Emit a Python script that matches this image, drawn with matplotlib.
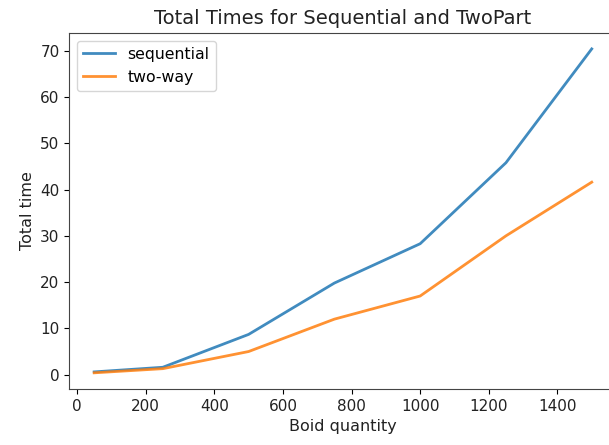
import matplotlib
matplotlib.use('Agg')
import matplotlib.pyplot as plt

# Boid counts and total run times
boids = [50, 250, 500, 750, 1000, 1250, 1500]
sequential_times = [0.6, 1.6, 8.7, 19.8, 28.3, 45.8, 70.4]
two_way_times = [0.4, 1.3, 5.0, 12.0, 17.0, 30.0, 41.6]

fig = plt.figure(figsize=(6.09, 4.45), dpi=100)
# right spine sits just past the picture edge in the original
ax = fig.add_axes([0.1138, 0.1258, 0.8987, 0.8007])

ax.plot(boids, sequential_times, label='sequential', linewidth=2, alpha=0.85)
ax.plot(boids, two_way_times, label='two-way', linewidth=2, alpha=0.85)

ax.set_title('Total Times for Sequential and TwoPart', fontsize=14, color='#222222')
ax.set_xlabel('Boid quantity', fontsize=11.5, color='#222222')
ax.set_ylabel('Total time', fontsize=11.5, color='#222222')
ax.tick_params(labelsize=11, labelcolor='#222222')
for s in ax.spines.values():
    s.set_color('#444444')
ax.legend(fontsize=11.3)

fig.savefig('out.png', dpi=100)
